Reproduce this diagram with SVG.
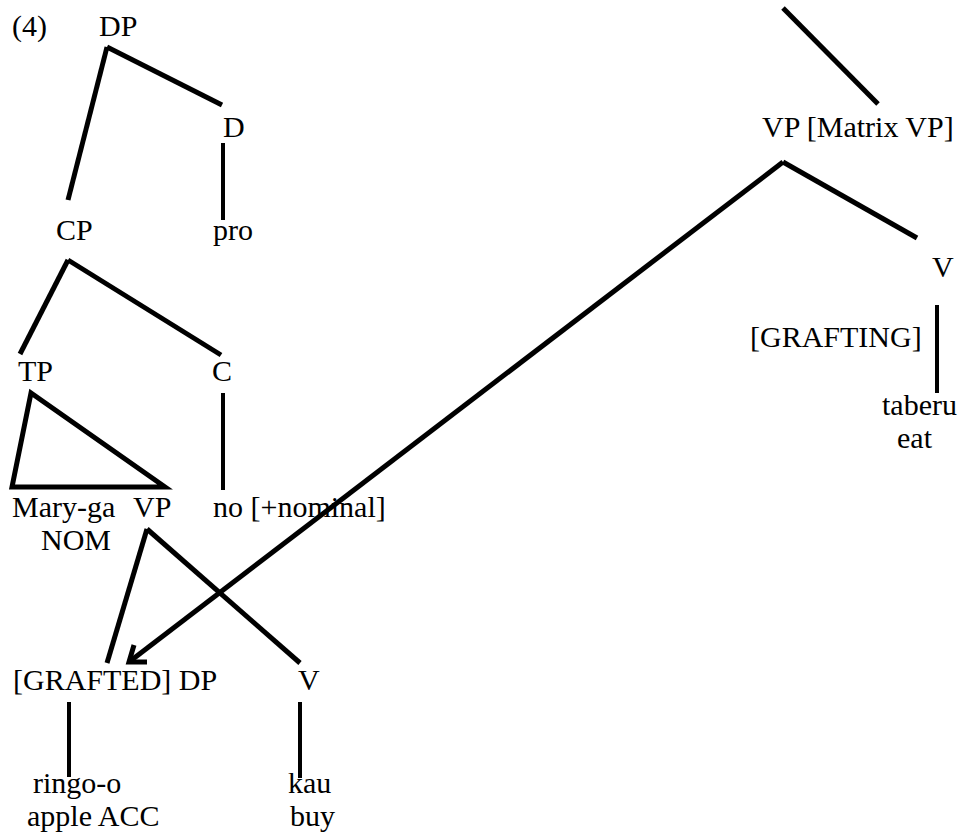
<svg xmlns="http://www.w3.org/2000/svg" width="962" height="837" viewBox="0 0 962 837">
<style>
text{font-family:"Liberation Serif","Times New Roman",serif;font-size:30px;fill:#000}
.e{stroke:#000;stroke-width:5;fill:none;stroke-linecap:butt;stroke-linejoin:miter}
.v{stroke:#000;stroke-width:4;fill:none}
</style>
<rect width="962" height="837" fill="#fff"/>
<g id="connectors">
<line class="e" x1="107" y1="47" x2="222" y2="105"/>
<line class="e" x1="107" y1="47" x2="68" y2="200"/>
<line class="v" x1="223" y1="143" x2="223" y2="220"/>
<line class="e" x1="68" y1="260" x2="20" y2="354"/>
<line class="e" x1="68" y1="260" x2="221" y2="355"/>
<line class="v" x1="223" y1="393" x2="223" y2="490"/>
<polygon class="e" points="31,393 12,487 165,487"/>
<line class="e" x1="147" y1="529" x2="107" y2="663"/>
<line class="e" x1="147" y1="529" x2="300" y2="663"/>
<line class="v" x1="69" y1="702" x2="69" y2="777"/>
<line class="v" x1="300" y1="702" x2="300" y2="778"/>
<line class="e" x1="783" y1="8" x2="878" y2="104"/>
<line class="e" x1="783" y1="162" x2="917" y2="238"/>
<line class="e" x1="783" y1="162" x2="129" y2="662"/>
<path class="e" d="M147,662 L129,662 L134,645"/>
<line class="v" x1="937" y1="305" x2="937" y2="393"/>
</g>
<g id="label4"><text x="12" y="36">(4)</text></g>
<g id="DP"><text x="99" y="36">DP</text></g>
<g id="D"><text x="223" y="137">D</text></g>
<g id="pro"><text x="213" y="240">pro</text></g>
<g id="CP"><text x="56" y="240">CP</text></g>
<g id="TP"><text x="18" y="381">TP</text></g>
<g id="C"><text x="212" y="381">C</text></g>
<g id="Maryga"><text x="12" y="517">Mary-ga</text><text x="41" y="550">NOM</text></g>
<g id="VP"><text x="133" y="517">VP</text></g>
<g id="no"><text x="213" y="517">no [+nominal]</text></g>
<g id="graftedDP"><text x="13" y="690">[GRAFTED] DP</text></g>
<g id="V1"><text x="298" y="690">V</text></g>
<g id="ringo"><text x="33" y="793">ringo-o</text><text x="27" y="826">apple ACC</text></g>
<g id="kau"><text x="288" y="793">kau</text><text x="290" y="826">buy</text></g>
<g id="matrixVP"><text x="762" y="137">VP [Matrix VP]</text></g>
<g id="V2"><text x="932" y="277">V</text></g>
<g id="grafting"><text x="750" y="347">[GRAFTING]</text></g>
<g id="taberu"><text x="882" y="415">taberu</text><text x="897" y="448">eat</text></g>
</svg>
